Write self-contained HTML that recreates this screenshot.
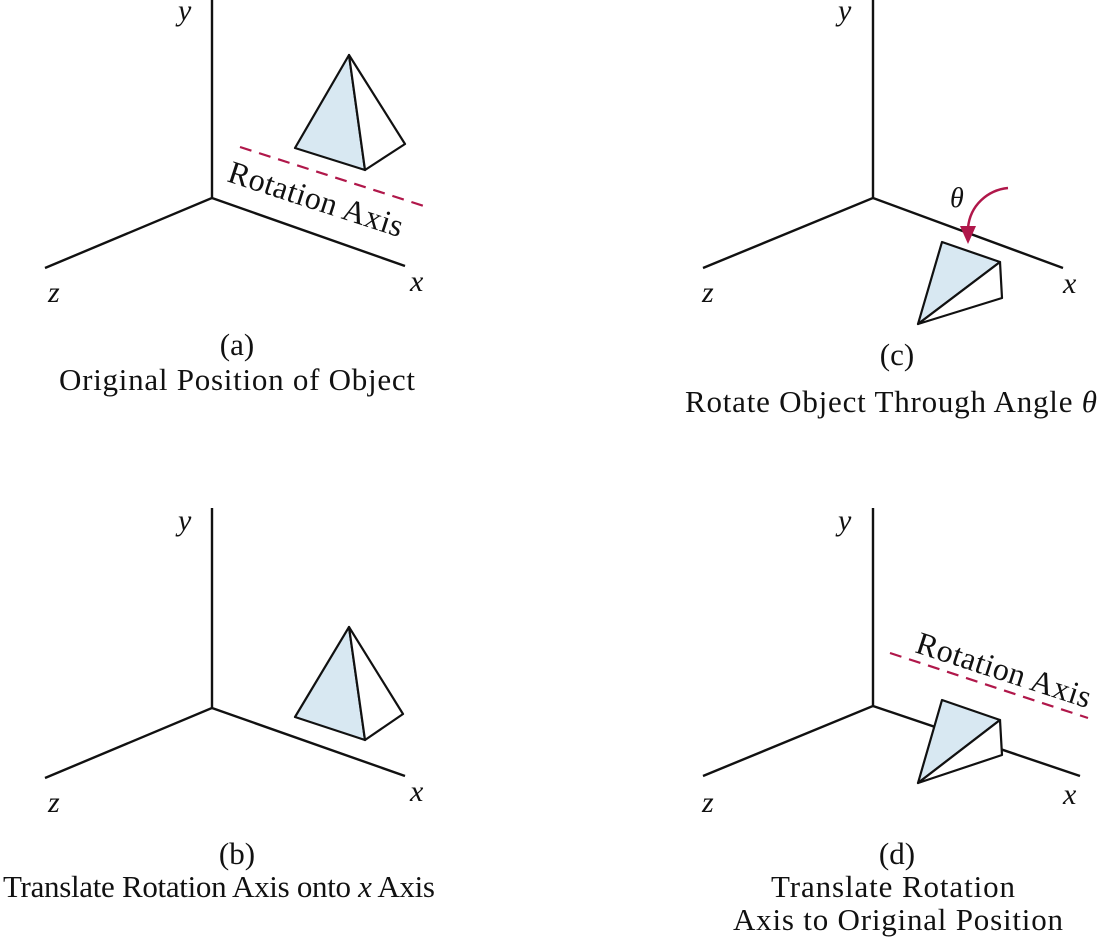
<!DOCTYPE html>
<html><head><meta charset="utf-8"><style>
body{margin:0;background:#fff}
svg text{font-family:"Liberation Serif",serif;fill:#111}
</style></head><body>
<svg width="1100" height="939" viewBox="0 0 1100 939">
<g stroke="#111" stroke-width="2.4" fill="none">
<path d="M212 0V198L45 268M212 198L405 266"/></g>
<g stroke="#111" stroke-width="2.4" fill="none">
<path d="M212 508V708L45 778M212 708L405 776"/></g>
<g stroke="#111" stroke-width="2.4" fill="none">
<path d="M873 0V198L703 268M873 198L1063 268"/></g>
<g stroke="#111" stroke-width="2.4" fill="none">
<path d="M873 508V706L703 776M873 706L1080 776"/></g>
<g font-style="italic" font-size="30">
<text x="178" y="20">y</text>
<text x="48" y="302">z</text>
<text x="410" y="291">x</text>
<text x="178" y="530">y</text>
<text x="48" y="812">z</text>
<text x="410" y="801">x</text>
<text x="838" y="20">y</text>
<text x="702" y="302">z</text>
<text x="1063" y="293">x</text>
<text x="838" y="530">y</text>
<text x="702" y="812">z</text>
<text x="1063" y="804">x</text>
<text x="950" y="207" font-size="28">θ</text>
</g>
<g stroke="#111" stroke-width="2.2" stroke-linejoin="round">
<polygon points="349,55 295,148 365,170" fill="#d8e8f2"/>
<polygon points="349,55 365,170 405,144" fill="#fff"/>
<polygon points="349,627 295,717 365,740" fill="#d8e8f2"/>
<polygon points="349,627 365,740 403,714" fill="#fff"/>
<polygon points="942,242 1000,262 918,324" fill="#d8e8f2"/>
<polygon points="1000,262 1002,298 918,324" fill="#fff"/>
<polygon points="942,700 1000,720 918,783" fill="#d8e8f2"/>
<polygon points="1000,720 1002,755 918,783" fill="#fff"/>
</g>
<g stroke="#b0174a" stroke-width="2.2" stroke-dasharray="12,8" fill="none">
<line x1="240" y1="147" x2="427" y2="207"/>
<line x1="890" y1="653" x2="1088" y2="718"/>
</g>
<path d="M1008 188C988 190 970 205 968 228" stroke="#b0174a" stroke-width="2.5" fill="none"/>
<polygon points="960,226 976,226 968,244" fill="#b0174a"/>
<text transform="translate(226,181) rotate(18)" font-size="32" textLength="182">Rotation Axis</text>
<text transform="translate(914,652) rotate(18)" font-size="32" textLength="182">Rotation Axis</text>
<g font-size="31" text-anchor="middle">
<text x="237" y="355">(a)</text>
<text x="237" y="390" textLength="356">Original Position  of Object</text>
<text x="897" y="365">(c)</text>
<text x="891" y="412" textLength="412">Rotate Object Through Angle <tspan font-style="italic">θ</tspan></text>
<text x="237" y="864">(b)</text>
<text x="219" y="897" textLength="432">Translate Rotation Axis onto <tspan font-style="italic">x</tspan> Axis</text>
<text x="897" y="864">(d)</text>
<text x="893" y="897" textLength="244">Translate Rotation</text>
<text x="898" y="930" textLength="330">Axis to Original Position</text>
</g>
</svg>
</body></html>
